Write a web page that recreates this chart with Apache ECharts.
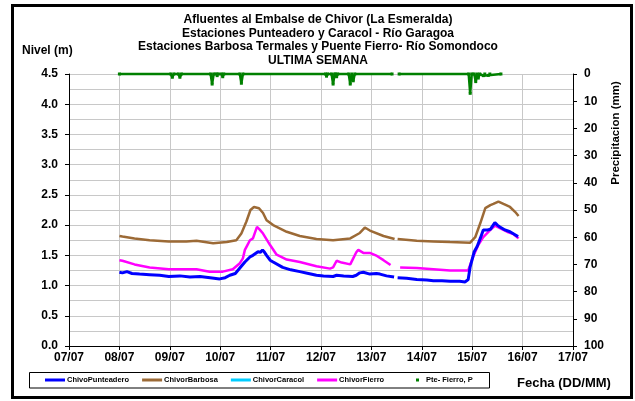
<!DOCTYPE html>
<html>
<head>
<meta charset="utf-8">
<script src="https://cdn.jsdelivr.net/npm/echarts@6/dist/echarts.min.js"></script>
<style>
html,body{margin:0;padding:0;background:#fff;}
#c{width:635px;height:401px;}
</style>
</head>
<body>
<div id="c"></div>
<script>
// Tick labels (days since 07/07)
const dayLabels = ['07/07','08/07','09/07','10/07','11/07','12/07','13/07','14/07','15/07','16/07','17/07'];
const minorGridLevels = [0.25, 0.75, 1.25, 1.75, 2.25, 2.75, 3.25, 3.75, 4.25];
const titleLines = ['Afluentes al Embalse de Chivor (La Esmeralda)','Estaciones Punteadero y Caracol - Río Garagoa','Estaciones Barbosa Termales y Puente Fierro- Río Somondoco','ULTIMA SEMANA'];

// Level series: [day offset from 07/07 00:00, level (m)]
const punteadero = [[1.00,1.22],[1.06,1.21],[1.15,1.23],[1.25,1.20],[1.40,1.19],[1.60,1.18],[1.80,1.17],[1.98,1.15],[2.20,1.16],[2.40,1.14],[2.60,1.15],[2.80,1.13],[2.99,1.11],[3.10,1.13],[3.19,1.17],[3.30,1.20],[3.39,1.29],[3.49,1.39],[3.60,1.48],[3.65,1.50],[3.75,1.56],[3.80,1.55],[3.84,1.59],[3.88,1.55],[3.92,1.50],[3.99,1.42],[4.05,1.39],[4.24,1.30],[4.40,1.26],[4.58,1.23],[4.75,1.20],[4.91,1.17],[5.05,1.16],[5.24,1.15],[5.31,1.17],[5.45,1.16],[5.63,1.15],[5.70,1.17],[5.77,1.21],[5.84,1.22],[5.97,1.19],[6.10,1.20],[6.17,1.19],[6.30,1.16],[6.45,1.14],[6.48,null],[6.52,1.13],[6.70,1.12],[6.90,1.10],[7.10,1.09],[7.23,1.08],[7.40,1.08],[7.56,1.07],[7.75,1.07],[7.86,1.06],[7.92,1.10],[7.96,1.31],[8.04,1.56],[8.10,1.65],[8.16,1.78],[8.22,1.92],[8.30,1.92],[8.36,1.93],[8.40,1.98],[8.45,2.04],[8.50,2.00],[8.55,1.97],[8.65,1.92],[8.75,1.89],[8.85,1.84],[8.91,1.81]];
const barbosa = [[1.00,1.82],[1.06,1.81],[1.30,1.78],[1.60,1.75],[1.98,1.73],[2.33,1.73],[2.53,1.74],[2.86,1.70],[3.13,1.72],[3.32,1.75],[3.42,1.86],[3.52,2.06],[3.60,2.25],[3.67,2.30],[3.77,2.28],[3.85,2.20],[3.92,2.08],[4.05,2.00],[4.32,1.89],[4.58,1.82],[4.91,1.77],[5.24,1.75],[5.58,1.78],[5.77,1.87],[5.87,1.96],[5.97,1.91],[6.24,1.82],[6.46,1.77],[6.49,null],[6.52,1.77],[6.90,1.74],[7.23,1.73],[7.56,1.72],[7.96,1.71],[8.06,1.80],[8.16,2.03],[8.26,2.28],[8.36,2.33],[8.42,2.35],[8.52,2.39],[8.62,2.35],[8.75,2.30],[8.85,2.22],[8.92,2.15]];
const caracol = [];
const fierro = [[1.00,1.42],[1.06,1.41],[1.30,1.35],[1.60,1.30],[1.98,1.27],[2.20,1.27],[2.53,1.27],[2.79,1.23],[3.05,1.23],[3.25,1.27],[3.39,1.37],[3.45,1.45],[3.49,1.59],[3.54,1.67],[3.59,1.75],[3.65,1.78],[3.70,1.90],[3.73,1.97],[3.78,1.93],[3.85,1.86],[3.99,1.67],[4.12,1.51],[4.32,1.43],[4.58,1.39],[4.91,1.32],[5.18,1.28],[5.24,1.30],[5.31,1.41],[5.41,1.38],[5.58,1.35],[5.64,1.45],[5.70,1.55],[5.74,1.59],[5.84,1.54],[5.97,1.54],[6.11,1.49],[6.24,1.42],[6.38,1.34],[6.47,null],[6.57,1.30],[6.90,1.29],[7.23,1.27],[7.56,1.25],[7.92,1.25],[8.02,1.48],[8.12,1.67],[8.22,1.80],[8.36,1.92],[8.45,1.99],[8.55,1.95],[8.69,1.89],[8.82,1.85],[8.92,1.78]];

// Precipitation Pte-Fierro: [day offset, mm]
const precip = [[1.00,0],[2.02,0],[2.05,1.2],[2.08,0],[2.17,0],[2.20,1.2],[2.23,0],[2.81,0],[2.84,3.7],[2.87,0],[2.92,0],[2.94,0.6],[2.96,0],[3.03,0],[3.05,1.0],[3.07,0],[3.39,0],[3.42,3.4],[3.45,0],[5.09,0],[5.11,0.8],[5.13,0],[5.21,0],[5.24,3.7],[5.27,0],[5.29,0],[5.31,1.0],[5.33,0],[5.55,0],[5.58,3.7],[5.61,0],[5.64,2.5],[5.67,0],[6.41,0],[6.48,null],[6.55,0],[7.93,0],[7.96,7.1],[7.99,0],[8.04,0],[8.07,2.8],[8.10,0],[8.12,1.5],[8.15,0],[8.22,0.6],[8.25,0],[8.32,0.5],[8.35,0],[8.57,0]];

const FONT = 'Liberation Sans, Arial, sans-serif';
const chart = echarts.init(document.getElementById('c'), null, {renderer:'canvas'});
const gridColor = '#c8c8c8';

chart.setOption({
  animation: false,
  backgroundColor: '#fff',
  grid: {left: 69, right: 62, top: 74, bottom: 55, containLabel: false},
  legend: [{
    data: ['ChivoPunteadero','ChivorBarbosa','ChivorCaracol','ChivorFierro'],
    left: 45, top: 376, padding: 0, itemGap: 13,
    itemWidth: 20, itemHeight: 3,
    icon: 'rect',
    textStyle: {fontFamily: FONT, fontSize: 7.5, fontWeight: 'bold', color: '#000', padding: [0,0,0,-3]}
  },{
    data: ['Pte- Fierro, P'],
    left: 416, top: 376, padding: 0,
    itemWidth: 3, itemHeight: 3, icon: 'rect',
    textStyle: {fontFamily: FONT, fontSize: 7.5, fontWeight: 'bold', color: '#000', padding: [0,0,0,2]}
  }],
  xAxis: {
    type: 'value', min: 0, max: 10, interval: 1,
    axisLine: {show: true, onZero: false, lineStyle: {color: '#000', width: 1}},
    axisTick: {show: true, length: 4, lineStyle: {color: '#000'}},
    axisLabel: {fontFamily: FONT, fontSize: 12, fontWeight: 'bold', color: '#000', margin: 6,
      formatter: v => dayLabels[Math.round(v)]},
    splitLine: {show: true, lineStyle: {color: gridColor, width: 1}}
  },
  yAxis: [{
    type: 'value', min: 0, max: 4.5, interval: 0.5,
    axisLine: {show: true, lineStyle: {color: '#000', width: 1}},
    axisTick: {show: true, length: 4, lineStyle: {color: '#000'}},
    axisLabel: {fontFamily: FONT, fontSize: 12, fontWeight: 'bold', color: '#000', margin: 11,
      formatter: v => v.toFixed(1)},
    splitLine: {show: true, lineStyle: {color: gridColor, width: 1}}
  },{
    type: 'value', min: 0, max: 100, interval: 10, inverse: true, position: 'right',
    axisLine: {show: true, lineStyle: {color: '#000', width: 1}},
    axisTick: {show: true, length: 4, lineStyle: {color: '#000'}},
    axisLabel: {fontFamily: FONT, fontSize: 12, fontWeight: 'bold', color: '#000', margin: 11},
    splitLine: {show: false}
  }],
  series: [
    {name: 'grid', type: 'line', data: [[0, 0]], yAxisIndex: 0, showSymbol: false, silent: true,
      lineStyle: {opacity: 0}, z: 0,
      markLine: {silent: true, symbol: 'none', animation: false, label: {show: false}, z: 0,
        lineStyle: {color: gridColor, width: 1, type: 'solid'},
        emphasis: {disabled: true},
        data: minorGridLevels.map(v => ({yAxis: v}))}},
    {name: 'ChivoPunteadero', type: 'line', data: punteadero, yAxisIndex: 0, showSymbol: false, connectNulls: false,
      lineStyle: {color: '#0000ff', width: 3}, itemStyle: {color: '#0000ff'}, z: 4},
    {name: 'ChivorBarbosa', type: 'line', data: barbosa, yAxisIndex: 0, showSymbol: false, connectNulls: false,
      lineStyle: {color: '#9c6a36', width: 2.5}, itemStyle: {color: '#9c6a36'}, z: 3},
    {name: 'ChivorCaracol', type: 'line', data: caracol, yAxisIndex: 0, showSymbol: false,
      lineStyle: {color: '#00ccff', width: 2.5}, itemStyle: {color: '#00ccff'}, z: 3},
    {name: 'ChivorFierro', type: 'line', data: fierro, yAxisIndex: 0, showSymbol: false, connectNulls: false,
      lineStyle: {color: '#ff00ff', width: 2.5}, itemStyle: {color: '#ff00ff'}, z: 3},
    {name: 'Pte- Fierro, P', type: 'line', data: precip, yAxisIndex: 1, connectNulls: false, clip: false,
      symbol: 'rect', symbolSize: 3, showSymbol: true,
      lineStyle: {color: '#008000', width: 2.5}, itemStyle: {color: '#008000'}, z: 5}
  ],
  graphic: [
    {type: 'rect', shape: {x: 12.5, y: 5.5, width: 619, height: 392}, style: {fill: 'none', stroke: '#000', lineWidth: 3}, silent: true},
    {type: 'rect', shape: {x: 29.5, y: 372.5, width: 460, height: 15.5}, style: {fill: 'none', stroke: '#000', lineWidth: 1}, silent: true, z: -1},
    {type: 'text', x: 318, y: 13,
      style: {text: titleLines.join('\n'), font: 'bold 12px ' + FONT, fill: '#000', align: 'center', verticalAlign: 'top', lineHeight: 13.5}},
    {type: 'text', left: 22, top: 45, style: {text: 'Nivel (m)', font: 'bold 12px ' + FONT, fill: '#000'}},
    {type: 'text', left: 517, top: 377, style: {text: 'Fecha (DD/MM)', font: 'bold 13px ' + FONT, fill: '#000'}},
    {type: 'text', x: 616, y: 133, rotation: Math.PI / 2,
      style: {text: 'Precipitacion (mm)', font: 'bold 11.5px ' + FONT, fill: '#000', align: 'center', verticalAlign: 'middle'}}
  ]
});
</script>
</body>
</html>
